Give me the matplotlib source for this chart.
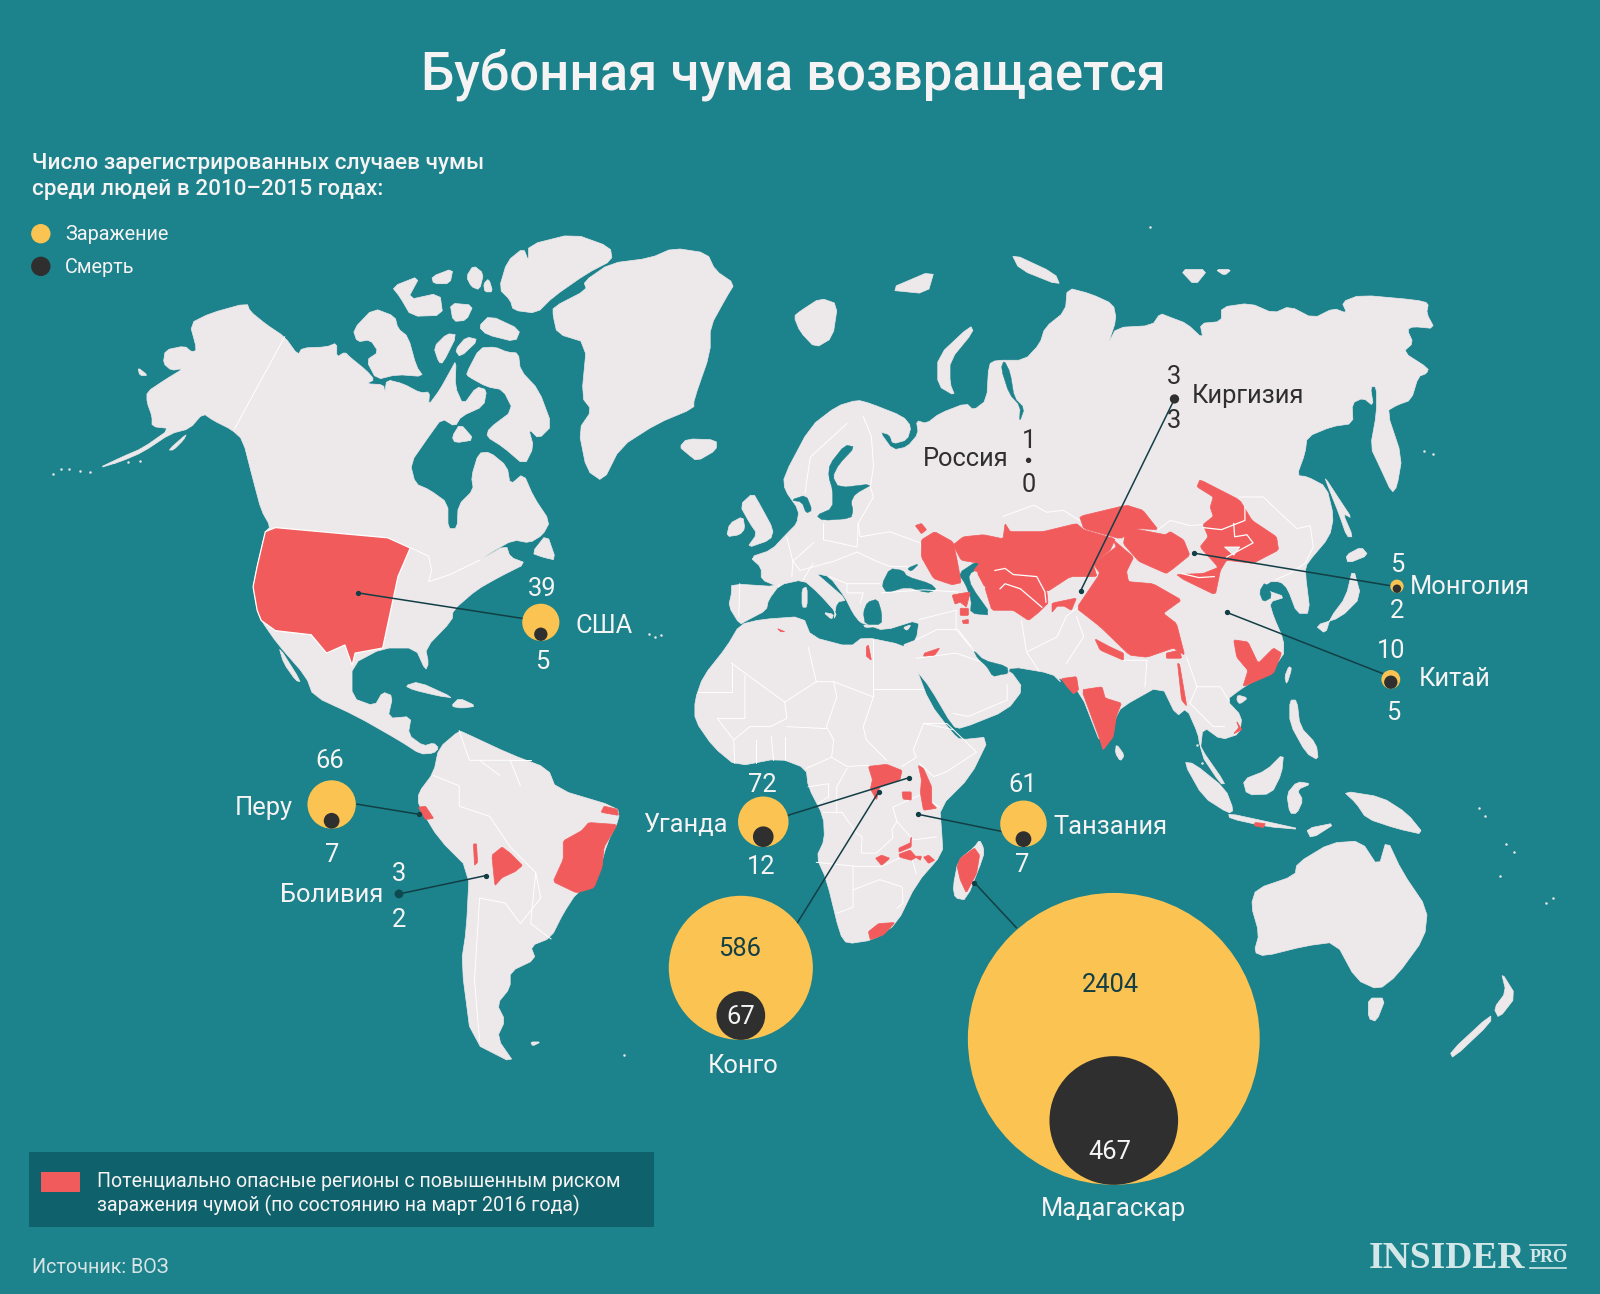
#!/usr/bin/env python3
"""Бубонная чума: карта мира с кругами по числу случаев, 1600x1294."""
import math

import matplotlib
matplotlib.use("Agg")
import matplotlib.pyplot as plt
from matplotlib.patches import Circle, Polygon, Rectangle

plt.rcParams["font.family"] = ["Roboto", "DejaVu Sans"]

# значения
COUNTRIES = ["США", "Перу", "Боливия", "Уганда", "Конго", "Танзания",
             "Мадагаскар", "Киргизия", "Россия", "Монголия", "Китай"]
INFECTED = [39, 66, 3, 72, 586, 61, 2404, 3, 1, 5, 10]
DEATHS = [5, 7, 2, 12, 67, 7, 467, 3, 0, 2, 5]

# расположение кругов (центр по x, низ круга) и подписей
BUBBLE_X = [530, 325, 391, 748, 726, 1003, 1091.5, 1151, 1008, 1369, 1363]
BUBBLE_BOTTOM = [628, 812, 881, 830, 1019, 830, 1161, 396, 454, 581, 675]
NAME_XY = [(592, 613), (259, 792), (325, 877), (672, 808), (728, 1045), (1088, 810),
           (1091, 1185), (1223, 388), (946, 450), (1441, 575), (1426, 665)]
TOP_XY = [(531, 577), (323, 746), (391, 856), (747, 769), (725, 930), (1002, 769),
          (1088, 965), (1151, 369), (1008, 432), (1369, 554), (1363, 638)]
LOW_XY = [(531, 649), (326, 838), (391, 902), (746, 850), (726, 997), (1002, 848),
          (1088, 1129), (1151, 413), (1008, 475), (1369, 599), (1365, 699)]
LEADERS = [((512, 606), (351, 581)), ((350, 788), (411, 798)), ((391, 876), (476, 858)),
           ((772, 799), (891, 762)), ((781, 905), (861, 776)), ((983, 815), (900, 798)),
           ((996, 909), (955, 865)), ((1151, 391), (1059, 579)), None,
           ((1369, 575), (1170, 542)), ((1355, 660), (1202, 600))]

BG = "#1c828b"
LAND = "#ede8ea"
RED = "#f25b5c"
YELLOW = "#fac352"
DARK = "#2f2f2f"
LINE = "#123f46"
PANEL = "#0f626b"
WHITE = "#f5f3f3"
R_SCALE = 143 / math.sqrt(2404)

# контуры суши (пиксели картинки)
LAND_SHAPES = [
    # Северная Америка
    [(96, 459), (119, 448), (140, 439), (167, 420), (149, 418), (149, 408), (144, 394), (144, 384),
     (162, 372), (180, 361), (168, 363), (160, 356), (162, 343), (181, 339), (188, 345), (193, 343),
     (186, 317), (206, 307), (242, 297), (245, 305), (261, 318), (279, 330), (292, 348), (296, 341),
     (320, 340), (330, 336), (330, 350), (338, 345), (343, 350), (359, 363), (367, 372), (359, 376),
     (376, 377), (377, 385), (379, 372), (395, 376), (412, 385), (421, 384), (420, 397), (431, 382),
     (441, 364), (447, 353), (446, 379), (454, 397), (467, 379), (477, 382), (474, 398), (452, 408),
     (446, 418), (433, 410), (420, 428), (402, 454), (407, 474), (421, 480), (439, 493), (439, 518),
     (448, 518), (449, 495), (464, 480), (462, 467), (469, 444), (480, 443), (497, 457), (500, 475),
     (513, 464), (523, 487), (539, 511), (532, 524), (519, 532), (503, 529), (480, 542), (470, 549),
     (496, 534), (500, 546), (516, 552), (490, 565), (467, 578), (444, 598), (443, 608), (417, 635),
     (420, 650), (417, 657), (407, 635), (375, 635), (345, 651), (345, 684), (367, 692), (375, 678),
     (385, 682), (380, 704), (403, 702), (400, 720), (415, 731), (425, 728), (430, 733), (425, 738),
     (412, 739), (392, 726), (350, 702), (307, 682), (300, 663), (272, 631), (256, 608), (252, 598),
     (248, 575), (252, 555), (260, 521), (265, 516), (256, 500), (248, 470), (238, 431), (227, 421),
     (209, 412), (199, 405), (186, 420), (167, 425), (140, 443), (119, 452)],
    [(273, 633), (295, 668), (290, 667), (278, 650)],
    [(165, 441), (183, 425), (180, 431), (170, 441)],
    [(135, 360), (145, 368), (137, 368)],
    # Арктические острова Канады
    [(346, 323), (366, 302), (387, 310), (390, 322), (400, 330), (408, 359), (415, 369), (389, 367),
     (369, 372), (359, 353), (371, 345), (363, 333), (350, 335)],
    [(384, 281), (412, 270), (399, 294), (431, 287), (434, 309), (403, 310), (392, 291)],
    [(423, 271), (444, 263), (441, 278), (425, 278)],
    [(457, 271), (464, 260), (474, 268), (470, 284), (462, 281)],
    [(474, 278), (479, 273), (483, 286), (475, 286)],
    [(441, 297), (464, 299), (457, 314), (444, 315)],
    [(425, 340), (438, 327), (448, 328), (434, 356), (430, 355)],
    [(446, 343), (457, 330), (469, 333), (451, 350)],
    [(469, 320), (480, 309), (510, 323), (505, 335), (477, 328)],
    [(489, 283), (497, 256), (513, 243), (518, 256), (518, 240), (562, 229), (598, 242), (600, 255),
     (575, 268), (542, 291), (526, 307), (503, 304), (500, 294)],
    [(457, 366), (470, 341), (485, 340), (497, 345), (508, 346), (510, 363), (528, 382), (541, 417),
     (528, 430), (518, 420), (523, 438), (514, 456), (493, 438), (477, 428), (479, 420), (503, 402),
     (493, 382), (477, 379), (459, 369)],
    [(443, 428), (451, 415), (465, 431), (446, 434)],
    [(521, 542), (536, 523), (545, 549), (532, 546)],
    # Гренландия, Исландия
    [(542, 301), (575, 284), (572, 276), (598, 258), (637, 253), (660, 243), (693, 248), (701, 265),
     (720, 278), (712, 291), (696, 320), (696, 346), (680, 392), (680, 400), (644, 415), (608, 438),
     (591, 472), (575, 461), (567, 421), (580, 402), (570, 389), (575, 336), (546, 327), (542, 309)],
    [(666, 438), (673, 430), (702, 431), (702, 441), (683, 452), (673, 444)],
    # Южная Америка
    [(450, 716), (430, 733), (425, 757), (410, 777), (410, 789), (430, 822), (460, 852), (457, 911),
     (452, 944), (462, 1021), (505, 1043), (487, 1017), (495, 1000), (487, 984), (500, 968), (500, 952),
     (525, 940), (520, 927), (540, 919), (552, 895), (565, 875), (585, 862), (595, 826), (607, 802),
     (605, 791), (545, 773), (537, 753), (500, 739), (455, 718)],
    [(520, 1021), (530, 1021), (522, 1025)],
    # Карибы
    [(397, 672), (410, 668), (445, 684), (430, 682), (405, 676)],
    [(442, 692), (450, 684), (467, 692), (452, 694)],
    # Евразия
    [(725, 612), (714, 594), (717, 581), (717, 572), (763, 575), (746, 568), (746, 556), (735, 546),
     (756, 539), (771, 523), (781, 513), (783, 500), (769, 480), (768, 467), (794, 418), (820, 398),
     (840, 392), (852, 395), (885, 408), (893, 418), (889, 431), (875, 435), (872, 426), (862, 423),
     (875, 441), (889, 438), (900, 425), (898, 412), (908, 415), (921, 405), (947, 395), (954, 402),
     (967, 392), (969, 357), (976, 353), (1004, 353), (1019, 337), (1024, 321), (1044, 305), (1046, 282),
     (1069, 288), (1091, 298), (1094, 313), (1086, 337), (1094, 321), (1129, 319), (1137, 307), (1147, 311),
     (1163, 317), (1179, 332), (1176, 317), (1197, 315), (1197, 301), (1225, 297), (1248, 307), (1264, 300),
     (1287, 312), (1307, 302), (1320, 307), (1315, 296), (1333, 289), (1388, 294), (1400, 297), (1398, 307),
     (1406, 322), (1385, 320), (1379, 323), (1385, 336), (1375, 345), (1400, 361), (1398, 366), (1390, 369),
     (1383, 392), (1369, 397), (1359, 403), (1374, 448), (1369, 477), (1364, 483), (1352, 457), (1343, 438),
     (1349, 405), (1349, 379), (1343, 379), (1346, 398), (1336, 390), (1325, 395), (1326, 415), (1305, 418),
     (1281, 428), (1279, 444), (1271, 466), (1281, 467), (1300, 477), (1307, 506), (1303, 526), (1281, 552),
     (1279, 560), (1284, 601), (1271, 601), (1262, 577), (1255, 570), (1243, 570), (1236, 582), (1240, 578),
     (1260, 585), (1244, 590), (1248, 604), (1258, 627), (1258, 644), (1232, 665), (1215, 676), (1202, 686),
     (1217, 702), (1215, 719), (1197, 725), (1179, 712), (1176, 738), (1196, 768), (1201, 768), (1176, 732),
     (1174, 719), (1163, 694), (1153, 702), (1138, 671), (1099, 693), (1094, 702), (1081, 735), (1058, 676),
     (1036, 663), (1040, 669), (1031, 660), (990, 653), (987, 663), (990, 657), (1003, 675), (987, 696),
     (942, 714), (934, 712), (911, 673), (898, 657), (889, 644), (885, 632), (890, 630), (898, 627),
     (901, 607), (866, 618), (850, 612), (843, 610), (836, 601), (828, 585), (813, 565), (800, 562),
     (807, 568), (830, 588), (820, 590), (817, 607), (820, 601), (802, 581), (787, 568), (764, 573),
     (753, 588), (751, 598), (732, 608)],
    [(725, 495), (738, 483), (745, 495), (758, 519), (755, 529), (732, 537), (742, 523), (735, 513)],
    [(712, 526), (715, 513), (728, 506), (730, 518), (725, 524)],
    [(778, 310), (784, 305), (804, 292), (821, 298), (816, 331), (799, 341), (784, 325)],
    [(951, 319), (954, 325), (931, 353), (931, 376), (936, 388), (919, 378), (919, 349)],
    [(869, 284), (916, 264), (909, 288)],
    [(991, 248), (1034, 268), (1039, 280), (999, 264)],
    [(1156, 264), (1184, 264), (1171, 280)],
    [(1191, 264), (1207, 264), (1200, 270)],
    [(786, 577), (791, 575), (791, 595), (786, 595)],
    [(807, 600), (817, 602), (815, 607)],
    [(846, 612), (859, 614), (848, 615)],
    [(885, 615), (893, 612), (889, 618)],
    # Япония, Сахалин
    [(1319, 544), (1334, 536), (1341, 544), (1321, 552)],
    [(1326, 556), (1334, 585), (1314, 605), (1289, 613), (1299, 621), (1304, 605), (1319, 585)],
    [(1298, 467), (1313, 490), (1325, 508), (1316, 503), (1326, 526), (1320, 526), (1312, 503), (1302, 478)],
    # Юго-Восточная Азия
    [(1264, 686), (1271, 686), (1274, 712), (1290, 729), (1292, 745), (1280, 738), (1264, 709)],
    [(1263, 653), (1266, 655), (1261, 671), (1259, 663)],
    [(1213, 681), (1223, 684), (1215, 690), (1212, 686)],
    [(1094, 729), (1102, 740), (1098, 746), (1093, 738)],
    [(1160, 747), (1170, 748), (1201, 773), (1209, 794), (1204, 797), (1179, 781)],
    [(1204, 797), (1241, 805), (1277, 813), (1241, 810), (1205, 802)],
    [(1218, 764), (1241, 755), (1258, 738), (1256, 758), (1246, 778), (1222, 779)],
    [(1261, 778), (1271, 766), (1285, 768), (1271, 774), (1277, 784), (1271, 797), (1264, 797)],
    [(1316, 775), (1354, 781), (1379, 797), (1396, 818), (1369, 812), (1339, 802), (1329, 787)],
    [(1280, 812), (1310, 806), (1285, 822)],
    # Африка, Мадагаскар
    [(725, 612), (746, 607), (787, 604), (795, 624), (833, 634), (846, 624), (885, 632), (889, 640),
     (895, 647), (911, 689), (934, 719), (941, 725), (970, 722), (951, 761), (921, 791), (923, 817),
     (924, 836), (898, 866), (879, 905), (856, 921), (830, 925), (823, 915), (810, 862), (800, 840),
     (808, 823), (807, 800), (792, 771), (790, 753), (764, 743), (722, 751), (699, 732), (681, 706),
     (681, 686), (689, 663), (712, 634)],
    [(964, 831), (960, 823), (955, 830), (939, 843), (934, 869), (936, 880), (947, 882), (964, 839)],
    # Австралия, Тасмания, Новая Зеландия
    [(1226, 887), (1231, 871), (1269, 858), (1271, 846), (1304, 826), (1334, 824), (1351, 850),
     (1359, 822), (1374, 854), (1399, 891), (1396, 919), (1369, 956), (1351, 970), (1329, 960),
     (1309, 923), (1279, 927), (1239, 937), (1229, 933), (1234, 915)],
    [(1341, 978), (1358, 978), (1349, 1001), (1341, 998)],
    [(1421, 1031), (1461, 994), (1461, 1002), (1424, 1037)],
    [(1471, 952), (1486, 976), (1469, 998), (1464, 988), (1476, 972)],
]

# мелкие острова точками
ISLET_X = [52, 60, 68, 78, 88, 112, 125, 137, 1396, 1404, 1127, 636, 642, 648, 708, 714, 720,
           612, 1173, 1178, 1182, 1186, 1476, 1484, 1455, 1449, 1470, 1515, 1522]
ISLET_Y = [464, 460, 460, 462, 463, 453, 453, 452, 442, 445, 222, 621, 624, 622, 705, 702, 708,
           1034, 730, 748, 760, 770, 827, 835, 800, 792, 858, 885, 880]

# моря и озёра поверх суши
WATER_SHAPES = [
    [(828, 436), (838, 438), (822, 455), (816, 467), (822, 478), (856, 474), (838, 484), (834, 492),
     (836, 500), (834, 508), (806, 510), (800, 505), (816, 498), (816, 480), (812, 467), (813, 455)],
    [(775, 490), (790, 485), (796, 500), (790, 503), (786, 492)],
    [(864, 573), (872, 557), (885, 559), (889, 565), (912, 572), (918, 578), (908, 581), (889, 575), (869, 581)],
    [(889, 557), (901, 552), (893, 560)],
    [(939, 562), (957, 550), (962, 555), (949, 563), (952, 575), (972, 603), (951, 601), (952, 588), (946, 572)],
    [(954, 637), (964, 647), (987, 653), (988, 660), (981, 661), (973, 663), (967, 653), (958, 645)],
    [(850, 590), (860, 587), (864, 600), (864, 612), (848, 612), (846, 600)],
    [(984, 353), (990, 365), (994, 390), (1004, 400), (999, 414), (1000, 398), (989, 386), (981, 361)],
    [(1234, 580), (1240, 570), (1247, 585), (1238, 590)],
]

USA_SHAPE = [(270, 517), (380, 527), (402, 537), (390, 565), (375, 635), (348, 640), (345, 652), (338, 632),
             (320, 640), (305, 622), (270, 618), (256, 608), (252, 598), (248, 575), (252, 555), (260, 521)]

RED_SHAPES = [
    # Центральная Азия, Китай, Монголия
    [(903, 529), (916, 521), (934, 531), (938, 549), (942, 571), (933, 573), (915, 567), (903, 546)],
    [(960, 552), (975, 559), (1018, 565), (1026, 580), (1027, 591), (1021, 595), (1000, 577), (985, 572),
     (980, 577), (965, 575), (958, 562)],
    [(985, 513), (990, 521), (1022, 521), (1055, 513), (1062, 519), (1093, 528), (1088, 539), (1071, 552),
     (1075, 565), (1049, 565), (1026, 580), (1018, 565), (975, 559), (978, 580), (964, 562), (954, 559),
     (960, 552), (942, 549), (934, 534), (944, 526), (964, 524), (983, 528)],
    [(965, 575), (980, 577), (985, 572), (1000, 577), (1021, 595), (1027, 591), (1018, 600), (1008, 608),
     (993, 598), (972, 598)],
    [(1031, 591), (1055, 586), (1050, 598), (1043, 594), (1036, 594), (1031, 600)],
    [(1058, 506), (1104, 495), (1120, 500), (1135, 519), (1114, 518), (1098, 528), (1062, 518)],
    [(1103, 521), (1111, 518), (1142, 524), (1147, 521), (1160, 529), (1166, 544), (1150, 557), (1143, 562),
     (1127, 555), (1116, 550), (1101, 533)],
    [(1091, 529), (1111, 546), (1104, 560), (1106, 570), (1130, 572), (1158, 588), (1140, 601), (1153, 611),
     (1161, 642), (1150, 635), (1124, 644), (1107, 642), (1078, 614), (1055, 596), (1078, 562), (1071, 552), (1094, 536)],
    [(1073, 626), (1088, 634), (1101, 640), (1101, 647), (1078, 637)],
    [(1143, 640), (1156, 637), (1158, 645), (1143, 645)],
    [(1176, 470), (1215, 490), (1227, 510), (1251, 526), (1253, 539), (1228, 552), (1202, 549), (1196, 559),
     (1191, 583), (1160, 568), (1153, 563), (1179, 562), (1194, 556), (1176, 536), (1184, 526), (1179, 514),
     (1189, 506), (1186, 497), (1189, 487), (1173, 477)],
    [(897, 515), (903, 513), (908, 519), (903, 523)],
    [(933, 583), (951, 580), (947, 595), (941, 590), (936, 592)],
    [(941, 596), (949, 596), (949, 603), (941, 603)],
    [(943, 608), (949, 607), (949, 611), (944, 611)],
    [(906, 640), (921, 635), (916, 642), (905, 643)],
    [(1209, 627), (1223, 629), (1233, 650), (1248, 635), (1256, 640), (1248, 660), (1218, 673), (1223, 657), (1212, 644)],
    # Индия, Мьянма, Таиланд, Ява
    [(1060, 676), (1080, 673), (1083, 684), (1099, 689), (1094, 702), (1091, 722), (1081, 735), (1078, 725)],
    [(1040, 665), (1055, 663), (1057, 676), (1052, 680), (1045, 672)],
    [(1154, 650), (1156, 651), (1163, 692), (1158, 686)],
    [(1212, 707), (1217, 715), (1209, 719), (1214, 713)],
    [(1230, 806), (1240, 807), (1238, 811), (1229, 809)],
    # Африка
    [(851, 751), (869, 749), (884, 755), (882, 764), (862, 771), (859, 784), (853, 773), (855, 764)],
    [(900, 750), (905, 753), (913, 771), (913, 787), (918, 792), (905, 794), (902, 777), (903, 764)],
    [(884, 776), (893, 776), (893, 784), (885, 783)],
    [(858, 841), (864, 838), (872, 841), (864, 848)],
    [(881, 831), (892, 826), (893, 820), (893, 830), (881, 835)],
    [(881, 837), (892, 833), (898, 840), (893, 843), (882, 840)],
    [(896, 839), (903, 839), (902, 843)],
    [(905, 840), (910, 838), (916, 843), (910, 846)],
    [(851, 913), (861, 905), (877, 904), (866, 916), (853, 921)],
    [(851, 632), (854, 647), (849, 643), (849, 634)],
    [(762, 616), (769, 619), (765, 619)],
    [(955, 831), (960, 838), (957, 856), (947, 875), (941, 862), (938, 849), (941, 841)],
    # Южная Америка
    [(410, 791), (417, 790), (425, 802), (417, 803)],
    [(464, 827), (467, 827), (468, 845), (465, 848)],
    [(482, 838), (492, 830), (500, 836), (512, 848), (505, 854), (492, 860), (485, 868)],
    [(577, 806), (605, 808), (592, 830), (590, 850), (582, 870), (565, 875), (542, 864), (552, 842), (552, 824), (570, 814)],
    [(592, 790), (605, 793), (606, 799), (589, 796)],
]

# клочок суши внутри красной области и белые линии поверх красного
HOLE_SHAPE = [(1200, 536), (1215, 536), (1209, 544)]
RED_LINES = [
    [(975, 559), (985, 557), (993, 563), (1016, 565), (1024, 580), (1025, 590)],
    [(980, 577), (985, 572), (1000, 577), (1021, 595)],
    [(1179, 517), (1197, 519), (1220, 510), (1220, 497)],
    [(1209, 513), (1210, 526), (1222, 524), (1228, 532), (1202, 546)],
    [(1158, 562), (1175, 566), (1190, 565)],
]

BORDERS = [
    [(279, 330), (230, 420)],
    [(403, 537), (420, 545), (423, 559), (420, 570), (441, 563), (470, 549)],
    [(345, 651), (338, 632), (320, 640), (305, 622), (270, 618)],
    # Европа
    [(725, 572), (724, 604)], [(764, 573), (763, 575)],
    [(830, 415), (794, 448), (789, 483)],
    [(846, 408), (854, 428), (856, 457), (853, 477), (856, 487), (841, 513), (843, 526), (872, 521), (902, 532), (905, 550)],
    [(807, 513), (807, 529), (840, 536), (841, 513)], [(840, 541), (859, 550), (872, 555), (889, 555)],
    [(771, 526), (777, 550), (776, 565)], [(797, 532), (777, 550), (784, 559), (817, 550), (840, 541)],
    [(787, 568), (797, 552)], [(813, 565), (830, 572), (862, 572)], [(830, 572), (830, 581), (846, 581), (843, 591)],
    [(864, 581), (905, 578), (938, 580), (945, 595)],
    # Ближний Восток
    [(901, 607), (937, 598), (937, 617), (954, 637)], [(898, 627), (918, 617), (937, 617)],
    [(898, 645), (937, 640), (960, 648)], [(987, 671), (987, 686), (949, 702), (934, 699)],
    [(939, 617), (952, 634)], [(1001, 608), (1006, 639), (1018, 657)],
    [(1006, 639), (1036, 624), (1045, 604), (1055, 596)], [(1045, 650), (1062, 624), (1055, 604)],
    [(1101, 647), (1124, 647), (1122, 673)], [(1163, 644), (1173, 673), (1166, 689)],
    [(1173, 673), (1196, 673), (1204, 686)], [(1166, 689), (1189, 712), (1200, 712)],
    # Россия — Казахстан, Монголия, Китай
    [(983, 506), (1013, 495), (1026, 502), (1042, 500), (1058, 510)],
    [(1135, 519), (1147, 510), (1166, 515), (1179, 514)],
    [(1215, 487), (1238, 487), (1258, 506), (1271, 518), (1284, 515), (1287, 536), (1279, 552), (1264, 562)],
    [(1264, 562), (1250, 568)],
    # Африка
    [(717, 650), (769, 688), (800, 668), (792, 634)], [(800, 668), (817, 668), (856, 683), (856, 627)],
    [(817, 668), (820, 683), (810, 712), (817, 725), (815, 742), (790, 753)],
    [(856, 683), (846, 712), (849, 725), (869, 745)], [(857, 675), (905, 675)],
    [(730, 662), (730, 704), (703, 704), (719, 725), (720, 748)], [(684, 678), (717, 678), (717, 650)],
    [(769, 688), (771, 704), (755, 712), (735, 712), (719, 725)], [(771, 712), (810, 714)],
    [(741, 725), (741, 748)], [(756, 722), (758, 745)], [(769, 722), (769, 745)],
    [(815, 742), (830, 751), (851, 750)], [(884, 751), (898, 742), (895, 735), (905, 709), (934, 715)],
    [(905, 709), (928, 709), (957, 737), (928, 756), (915, 761), (901, 748)],
    [(921, 791), (902, 779), (875, 791), (879, 805), (895, 823), (918, 820)],
    [(792, 771), (812, 768), (812, 781), (802, 787)], [(830, 753), (820, 771), (820, 797)],
    [(807, 796), (825, 796), (840, 817), (845, 820), (844, 836), (859, 836), (875, 821), (874, 813), (879, 805)],
    [(800, 845), (840, 849), (864, 849), (892, 836), (898, 856)],
    [(836, 849), (836, 889), (820, 895)], [(836, 872), (862, 862), (884, 869), (885, 885), (879, 890)],
    # Южная Америка
    [(425, 760), (450, 770), (450, 790), (480, 800), (500, 830), (525, 855), (530, 880), (510, 905), (495, 885), (470, 880), (465, 960), (470, 1020)],
    [(450, 716), (460, 745), (500, 745), (510, 770)], [(525, 855), (520, 905), (540, 920)],
    [(470, 745), (490, 760)], [(500, 745), (520, 745)],
]


def chaikin(pts, cut=0.2):
    # срезаем углы, чтобы берега не были рублеными
    out = []
    n = len(pts)
    for i in range(n):
        (x0, y0), (x1, y1) = pts[i], pts[(i + 1) % n]
        out.append(((1 - cut) * x0 + cut * x1, (1 - cut) * y0 + cut * y1))
        out.append((cut * x0 + (1 - cut) * x1, cut * y0 + (1 - cut) * y1))
    return out


def draw_text(ax, xy, s, size=18.4, color=WHITE, **kw):
    ax.text(xy[0], xy[1], s, fontsize=size, color=color, ha="center", va="center", **kw)


def main():
    fig = plt.figure(figsize=(16, 12.94), dpi=100, facecolor=BG)
    ax = fig.add_axes([0, 0, 1, 1])
    ax.set_xlim(0, 1568)
    ax.set_ylim(1268, 0)
    ax.axis("off")

    for pts in LAND_SHAPES:
        ax.add_patch(Polygon(chaikin(pts), closed=True, fc=LAND, ec=LAND, lw=0.5, zorder=1))
    ax.plot(ISLET_X, ISLET_Y, "o", color=LAND, ms=1.8, mew=0, zorder=1)
    for pts in WATER_SHAPES:
        ax.add_patch(Polygon(chaikin(pts), closed=True, fc=BG, ec=BG, lw=0.3, zorder=2))
    for pts in BORDERS:
        xs, ys = zip(*pts)
        ax.plot(xs, ys, color="white", lw=0.7, zorder=3)

    ax.add_patch(Polygon(USA_SHAPE, closed=True, fc=RED, ec="white", lw=0.9, zorder=4))
    for pts in RED_SHAPES:
        ax.add_patch(Polygon(chaikin(pts, 0.08), closed=True, fc=RED, ec=RED, lw=0.5, zorder=4))
    ax.add_patch(Polygon(HOLE_SHAPE, closed=True, fc=LAND, ec="white", lw=0.6, zorder=4))
    for pts in RED_LINES:
        xs, ys = zip(*pts)
        ax.plot(xs, ys, color="white", lw=0.9, zorder=4)

    for seg in LEADERS:
        if seg is None:
            continue
        (x0, y0), (x1, y1) = seg
        ax.plot([x0, x1], [y0, y1], color=LINE, lw=1.1, zorder=5)
        ax.plot([x1], [y1], "o", color=LINE, ms=2.8, zorder=5)

    # круги: площадь пропорциональна числу случаев, низ у обоих общий
    for i, name in enumerate(COUNTRIES):
        r_inf = R_SCALE * math.sqrt(INFECTED[i])
        r_dead = R_SCALE * math.sqrt(DEATHS[i])
        x, bottom = BUBBLE_X[i], BUBBLE_BOTTOM[i]
        if name == "Боливия":
            ax.add_patch(Circle((x, bottom - r_inf), r_inf * 0.85, fc="#0f4a50", zorder=6))
        elif name in ("Киргизия", "Россия"):
            ax.add_patch(Circle((x, bottom - r_inf), r_inf * 0.9, fc=DARK, zorder=6))
        else:
            ax.add_patch(Circle((x, bottom - r_inf), r_inf, fc=YELLOW, zorder=6))
            ax.add_patch(Circle((x, bottom - r_dead), r_dead, fc=DARK, zorder=7))

        on_land = name in ("Киргизия", "Россия")
        text_col = DARK if on_land else WHITE
        draw_text(ax, NAME_XY[i], name, color=text_col, zorder=8)
        top_col = "#123f46" if name in ("Конго", "Мадагаскар") else text_col
        draw_text(ax, TOP_XY[i], str(INFECTED[i]), color=top_col, zorder=8)
        draw_text(ax, LOW_XY[i], str(DEATHS[i]), color=text_col, zorder=8)

    ax.text(778, 73, "Бубонная чума возвращается", fontsize=37.9, color=WHITE,
            ha="center", va="center", fontweight="medium")
    ax.text(31, 160, "Число зарегистрированных случаев чумы", fontsize=16.2, color=WHITE,
            va="center", fontweight="medium")
    ax.text(31, 186, "среди людей в 2010–2015 годах:", fontsize=16.2, color=WHITE,
            va="center", fontweight="medium")

    ax.add_patch(Circle((40, 229), 9.5, fc=YELLOW, zorder=6))
    ax.add_patch(Circle((40, 261), 9.5, fc=DARK, zorder=6))
    ax.text(64, 230, "Заражение", fontsize=14.3, color=WHITE, va="center")
    ax.text(64, 262, "Смерть", fontsize=14.3, color=WHITE, va="center")

    ax.add_patch(Rectangle((28, 1129), 613, 73, fc=PANEL, ec="none", zorder=2))
    ax.add_patch(Rectangle((40, 1148), 38, 20, fc=RED, ec="none", zorder=3))
    ax.text(95, 1158, "Потенциально опасные регионы с повышенным риском", fontsize=14.1,
            color=WHITE, va="center", zorder=3)
    ax.text(95, 1181, "заражения чумой (по состоянию на март 2016 года)", fontsize=14.1,
            color=WHITE, va="center", zorder=3)

    ax.text(31, 1242, "Источник: ВОЗ", fontsize=14.2, color="#d6e4e6", va="center")
    ax.text(1341, 1233, "INSIDER", fontsize=27, color="#d3e6e8", va="center",
            family="Liberation Serif", fontweight="bold")
    ax.text(1499, 1232, "PRO", fontsize=13, color="#d3e6e8", va="center",
            family="Liberation Serif", fontweight="bold")
    ax.plot([1499, 1535], [1220, 1220], color="#d3e6e8", lw=1.2)
    ax.plot([1499, 1535], [1243, 1243], color="#d3e6e8", lw=1.2)

    fig.savefig("out.png", dpi=100, facecolor=BG)
    plt.close(fig)


if __name__ == "__main__":
    main()
